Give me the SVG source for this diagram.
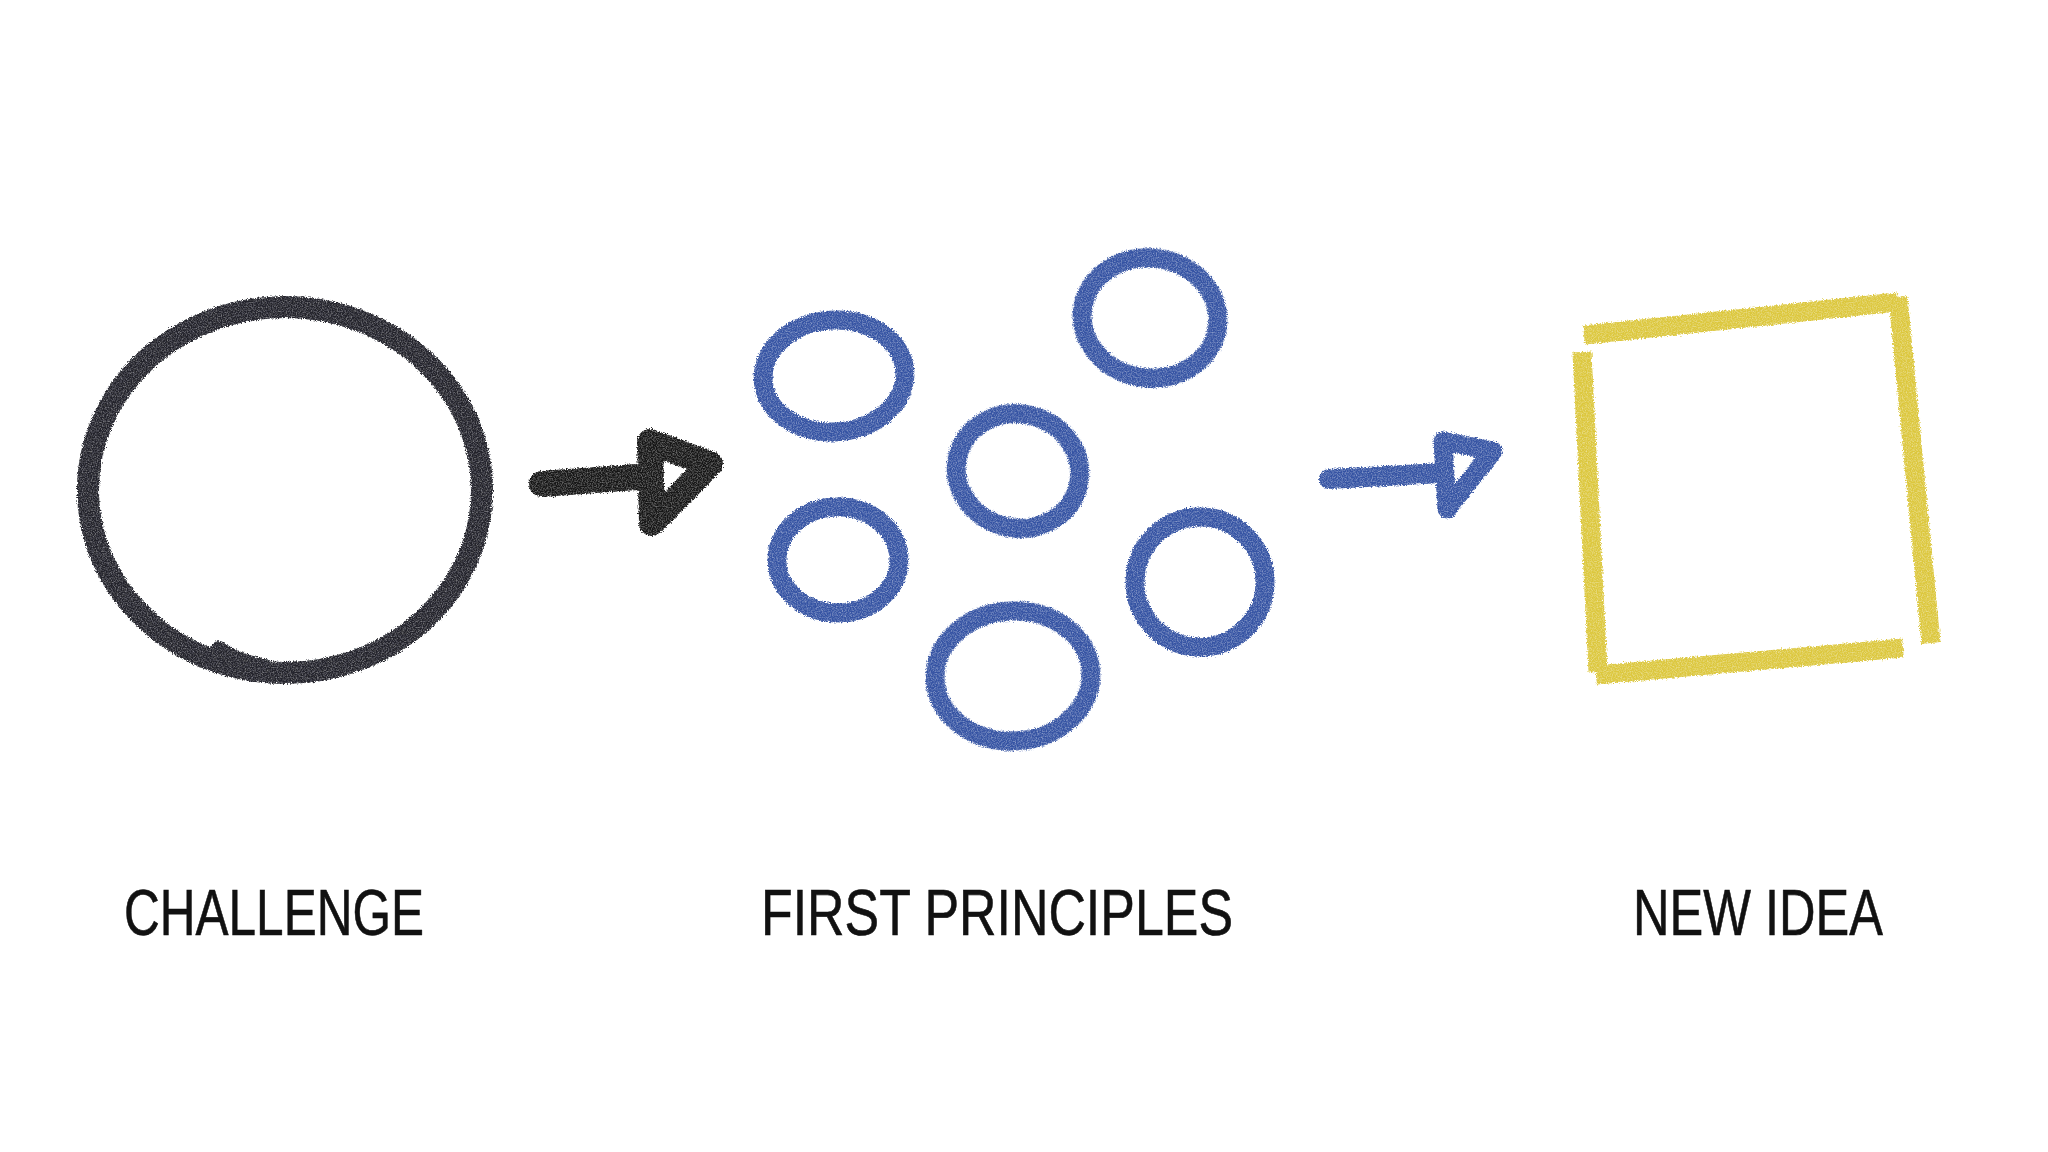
<svg xmlns="http://www.w3.org/2000/svg" width="2048" height="1152" viewBox="0 0 2048 1152">
  <defs>
    <filter id="crayon" filterUnits="userSpaceOnUse" x="0" y="0" width="2048" height="1152">
      <feTurbulence type="fractalNoise" baseFrequency="0.8" numOctaves="2" seed="3" result="n"/>
      <feDisplacementMap in="SourceGraphic" in2="n" scale="5" xChannelSelector="R" yChannelSelector="G" result="d"/>
      <feColorMatrix in="n" type="matrix" values="0 0 0 0 0  0 0 0 0 0  0 0 0 0 0  0 0 0 -0.9 1.35" result="mask"/>
      <feComposite in="d" in2="mask" operator="in"/>
    </filter>
    <style>
      .crayon { filter: url(#crayon); }
      .ink { fill: none; stroke-linecap: round; stroke-linejoin: round; }
      .black { stroke: #22242b; stroke-width: 22; }
      .arrowK { stroke: #141414; stroke-width: 26; }
      .blue { stroke: #3453a3; stroke-width: 19; }
      .yellow { stroke: #dcc73c; stroke-width: 19; stroke-linecap: butt; }
      .label { font-family: "Liberation Sans", "DejaVu Sans", sans-serif; font-size: 64px; fill: #111111; stroke: #111111; stroke-width: 0.6; }
    </style>
  </defs>
  <rect width="2048" height="1152" fill="#ffffff"/>

  <g id="challenge">
    <g class="crayon">
      <ellipse class="ink black" cx="285" cy="490" rx="197" ry="183"/>
      <path class="ink black" d="M 219 650 Q 234 662 262 667" style="stroke-width:18"/>
    </g>
    <text class="label" x="124" y="935" textLength="300" lengthAdjust="spacingAndGlyphs">CHALLENGE</text>
  </g>

  <g id="first-principles">
    <g class="crayon">
      <ellipse class="ink blue" cx="834" cy="376" rx="71" ry="56" transform="rotate(-4 834 376)"/>
      <ellipse class="ink blue" cx="1150" cy="318" rx="68" ry="60" transform="rotate(8 1150 318)"/>
      <ellipse class="ink blue" cx="1018" cy="471" rx="62" ry="57" transform="rotate(15 1018 471)"/>
      <ellipse class="ink blue" cx="838" cy="560" rx="61" ry="53"/>
      <ellipse class="ink blue" cx="1200" cy="582" rx="65" ry="65"/>
      <ellipse class="ink blue" cx="1013" cy="676" rx="78" ry="65" transform="rotate(-3 1013 676)"/>
    </g>
    <text class="label" x="761" y="935" textLength="472" lengthAdjust="spacingAndGlyphs">FIRST PRINCIPLES</text>
  </g>

  <g id="new-idea">
    <g class="crayon">
      <path class="ink yellow" d="M 1584 335 L 1898 302"/>
      <path class="ink yellow" d="M 1898 297 L 1931 643"/>
      <path class="ink yellow" d="M 1582 352 L 1598 672"/>
      <path class="ink yellow" d="M 1596 675 L 1903 648"/>
    </g>
    <text class="label" x="1633" y="935" textLength="250" lengthAdjust="spacingAndGlyphs">NEW IDEA</text>
  </g>

  <g id="connectors">
    <g id="arrow-1" class="crayon">
      <path class="ink arrowK" d="M 542 484 L 650 476"/>
      <path class="ink arrowK" d="M 650 442 L 652 523 L 710 464 Z"/>
    </g>
    <g id="arrow-2" class="crayon">
      <path class="ink blue" style="stroke-width:20" d="M 1329 479 L 1441 473"/>
      <path class="ink blue" d="M 1443 441 L 1447 509 L 1493 451 Z"/>
    </g>
  </g>
</svg>
